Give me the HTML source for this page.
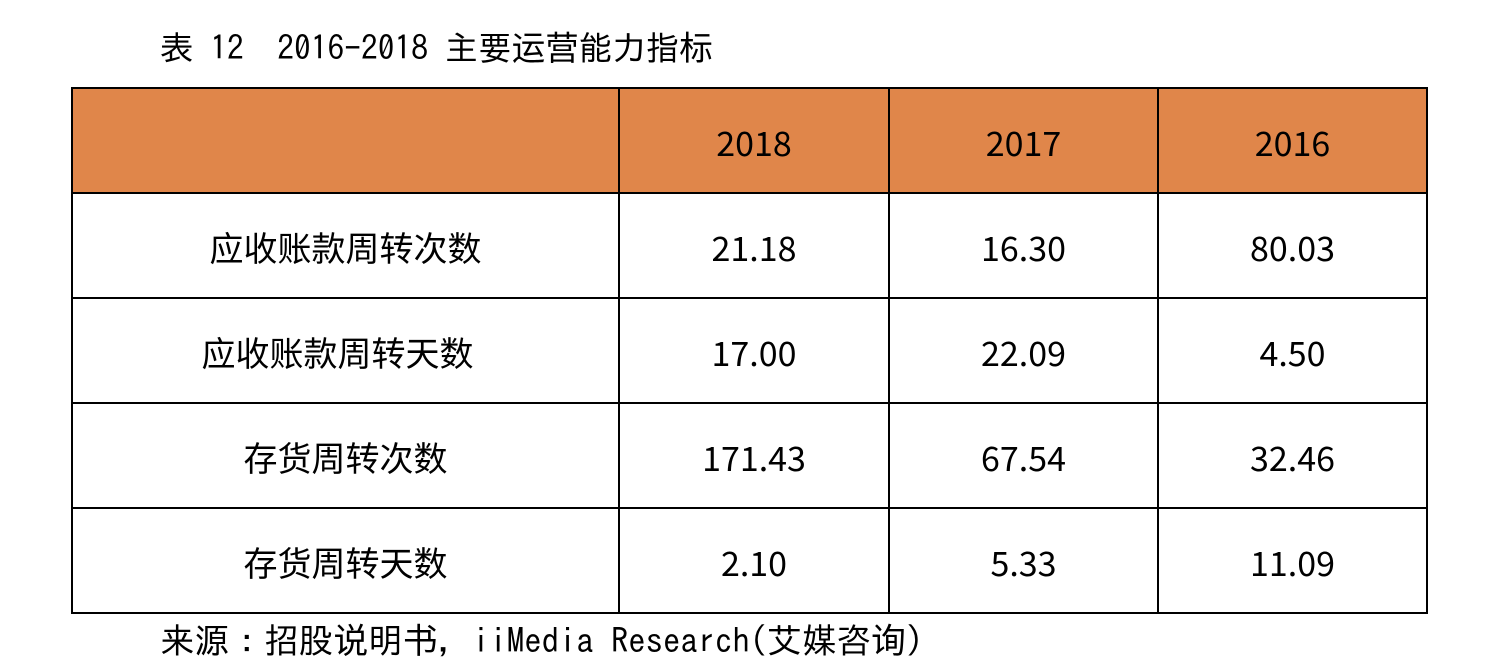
<!DOCTYPE html>
<html><head><meta charset="utf-8"><style>
html,body{margin:0;padding:0;background:#fff;width:1508px;height:672px;overflow:hidden;position:relative}
.t{position:absolute;font-family:"IPAGothic","Noto Sans CJK SC",sans-serif;color:#000;white-space:pre;line-height:1}
table{position:absolute;left:71px;top:87px;border-collapse:collapse;font-family:"Noto Sans CJK SC",sans-serif;font-size:34px;color:#000}
td{border:2px solid #000;text-align:center;padding:3px 0 0 0;height:100px;line-height:1}
tr.h td{background:#e0864a;}
</style></head><body>
<div class="t" style="left:160px;top:32px;font-size:33.5px">表 12　2016-2018 主要运营能力指标</div>
<table>
<colgroup><col style="width:547px"><col style="width:270px"><col style="width:269px"><col style="width:269px"></colgroup>
<tr class="h"><td></td><td>2018</td><td>2017</td><td>2016</td></tr>
<tr><td>应收账款周转次数</td><td>21.18</td><td>16.30</td><td>80.03</td></tr>
<tr><td style="padding-right:16px">应收账款周转天数</td><td>17.00</td><td>22.09</td><td>4.50</td></tr>
<tr><td>存货周转次数</td><td>171.43</td><td>67.54</td><td>32.46</td></tr>
<tr><td>存货周转天数</td><td>2.10</td><td>5.33</td><td>11.09</td></tr>
</table>
<div class="t" style="left:160px;top:624px;font-size:34.7px">来源：招股说明书，iiMedia Research(艾媒咨询)</div>
</body></html>
